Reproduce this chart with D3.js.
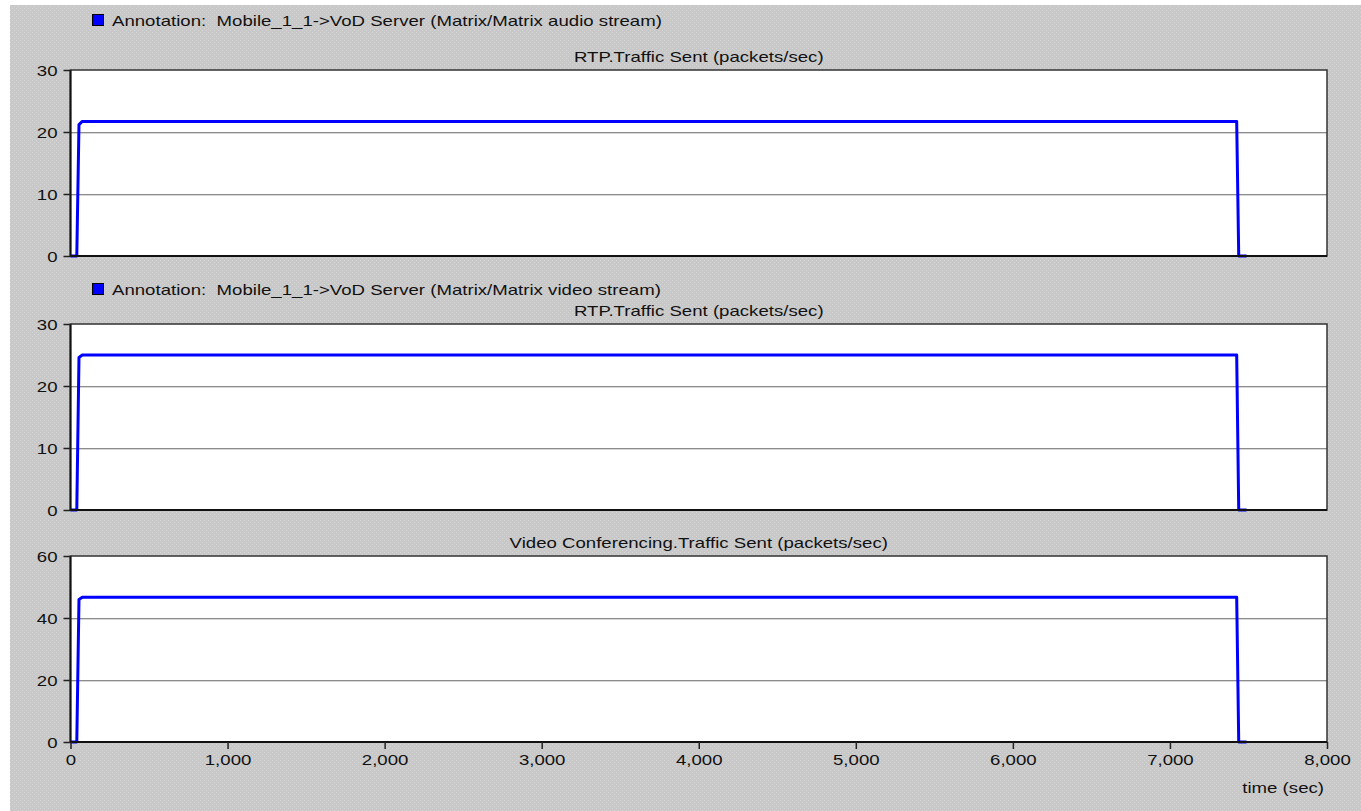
<!DOCTYPE html>
<html>
<head>
<meta charset="utf-8">
<script src="https://cdn.jsdelivr.net/npm/d3@7"></script>
<style>
  body { margin: 0; background: #ffffff; }
  svg { display: block; font-family: "Liberation Sans", Arial, sans-serif; }
  .tick text { font-size: 14px; fill: #111; }
</style>
</head>
<body>
<div id="chart"></div>
<script>
// OPNET style stacked time series - traffic sent (packets/sec)

const timeSec = [0, 40, 54, 75, 7425, 7438, 7488];
const audioSent = [0, 0, 21.2, 21.7, 21.7, 0, 0];
const videoSent = [0, 0, 24.6, 25, 25, 0, 0];
const confSent = [0, 0, 46.0, 46.7, 46.7, 0, 0];

const xTicks = [0, 1000, 2000, 3000, 4000, 5000, 6000, 7000, 8000];

const panels = [
    { legend: 'Annotation:  Mobile_1_1->VoD Server (Matrix/Matrix audio stream)', legendY: 26,
      title: 'RTP.Traffic Sent (packets/sec)', values: audioSent, yMax: 30, yTicks: [0, 10, 20, 30], top: 70, bottom: 256 },
    { legend: 'Annotation:  Mobile_1_1->VoD Server (Matrix/Matrix video stream)', legendY: 295,
      title: 'RTP.Traffic Sent (packets/sec)', values: videoSent, yMax: 30, yTicks: [0, 10, 20, 30], top: 324, bottom: 510 },
    { legend: null,
      title: 'Video Conferencing.Traffic Sent (packets/sec)', values: confSent, yMax: 60, yTicks: [0, 20, 40, 60], top: 556, bottom: 742 }
];

const W = 1361, H = 811;
const left = 70.5, right = 1327;
const stretch = 1.33;   // the screenshot's text is wider than it is tall

const svg = d3.select('#chart').append('svg')
    .attr('width', W)
    .attr('height', H);

// dotted gray texture for the window background
const defs = svg.append('defs');
const pat = defs.append('pattern')
    .attr('id', 'bgDots')
    .attr('width', 4).attr('height', 4)
    .attr('patternUnits', 'userSpaceOnUse');
pat.append('rect').attr('width', 4).attr('height', 4).attr('fill', '#c8c8c8');
pat.append('rect').attr('x', 0).attr('y', 0).attr('width', 1).attr('height', 1).attr('fill', '#d6d6d6');
pat.append('rect').attr('x', 2).attr('y', 2).attr('width', 1).attr('height', 1).attr('fill', '#d6d6d6');

svg.append('rect')
    .attr('x', 10).attr('y', 5)
    .attr('width', W - 10).attr('height', H - 5)
    .attr('fill', 'url(#bgDots)');

function label(parent, x, y, str, anchor) {
    return parent.append('text')
        .attr('transform', `translate(${x},${y}) scale(${stretch},1)`)
        .attr('text-anchor', anchor || 'start')
        .style('font-size', '14px')
        .style('fill', '#111')
        .style('white-space', 'pre')
        .text(str);
}

const x = d3.scaleLinear()
    .domain([0, 8000])
    .range([left, right]);

panels.forEach((p, idx) => {
    const y = d3.scaleLinear()
        .domain([0, p.yMax])
        .range([p.bottom, p.top]);

    const g = svg.append('g');

    // plot area
    g.append('rect')
        .attr('x', left).attr('y', p.top)
        .attr('width', right - left).attr('height', p.bottom - p.top)
        .attr('fill', '#ffffff');

    // horizontal grid lines
    p.yTicks.slice(1, -1).forEach(t => {
        const gy = Math.round(y(t));
        g.append('line')
            .attr('x1', left).attr('x2', right)
            .attr('y1', gy + 0.5).attr('y2', gy + 0.5)
            .attr('stroke', '#8c8c8c').attr('stroke-width', 1);
        g.append('line')
            .attr('x1', left).attr('x2', right)
            .attr('y1', gy + 1.5).attr('y2', gy + 1.5)
            .attr('stroke', '#d8d8d8').attr('stroke-width', 1);
    });

    // series line
    const line = d3.line()
        .x((d, i) => x(timeSec[i]))
        .y(d => y(d));

    g.append('path')
        .datum(p.values)
        .attr('d', line)
        .attr('fill', 'none')
        .attr('stroke', '#0000ff')
        .attr('stroke-width', 3)
        .attr('stroke-linejoin', 'round')
        .attr('stroke-linecap', 'butt');

    // frame: heavier on the axis sides
    g.append('rect')
        .attr('x', left).attr('y', p.top)
        .attr('width', right - left).attr('height', p.bottom - p.top)
        .attr('fill', 'none')
        .attr('stroke', '#333')
        .attr('stroke-width', 1.5);
    g.append('path')
        .attr('d', `M${left},${p.top}V${p.bottom}H${right}`)
        .attr('fill', 'none')
        .attr('stroke', '#111')
        .attr('stroke-width', 2);

    // y axis
    const yAxis = g.append('g')
        .attr('transform', `translate(${left},0)`)
        .call(d3.axisLeft(y).tickValues(p.yTicks).tickSize(7).tickPadding(6).tickFormat(d3.format('d')));
    yAxis.select('.domain').remove();
    yAxis.selectAll('.tick line').attr('stroke', '#222').attr('stroke-width', 1.5);
    yAxis.selectAll('.tick text')
        .attr('x', -13 / stretch)
        .attr('dy', '0.4em')
        .attr('transform', `scale(${stretch},1)`);

    // x axis (only on last panel)
    if (idx === panels.length - 1) {
        const xAxis = g.append('g')
            .attr('transform', `translate(0,${p.bottom})`)
            .call(d3.axisBottom(x).tickValues(xTicks).tickSize(7).tickPadding(6).tickFormat(d3.format(',')));
        xAxis.select('.domain').remove();
        xAxis.selectAll('.tick line').attr('stroke', '#222').attr('stroke-width', 1.5);
        xAxis.selectAll('.tick text')
            .attr('transform', `scale(${stretch},1)`);

        label(g, 1324, p.bottom + 51, 'time (sec)', 'end');
    }

    // panel title
    label(g, (left + right) / 2, p.top - 8, p.title, 'middle');

    // legend entry
    if (p.legend) {
        g.append('rect')
            .attr('x', 92.5).attr('y', p.legendY - 11.5)
            .attr('width', 11).attr('height', 11)
            .attr('fill', '#0000ff')
            .attr('stroke', '#000')
            .attr('stroke-width', 1);
        label(g, 112, p.legendY, p.legend);
    }
});
</script>
</body>
</html>
